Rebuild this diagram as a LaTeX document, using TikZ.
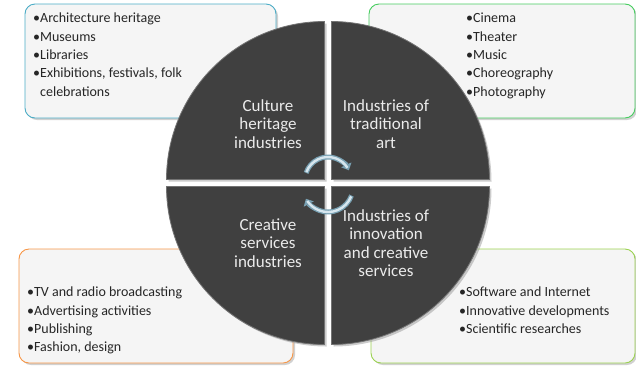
\documentclass[tikz,border=0pt]{standalone}
\usepackage{fontspec}
\setmainfont{Carlito}
\usetikzlibrary{shadows,arrows.meta}
\definecolor{quad}{RGB}{64,64,64}
\definecolor{boxfill}{RGB}{245,245,245}
\definecolor{cblue}{RGB}{75,172,198}
\definecolor{cgreen}{RGB}{70,205,95}
\definecolor{corange}{RGB}{247,150,70}
\definecolor{clime}{RGB}{155,210,80}
\definecolor{arrowdark}{RGB}{120,160,178}
\definecolor{arrowlight}{RGB}{215,230,238}
\tikzset{
  infobox/.style={rounded corners=10pt, fill=boxfill, line width=0.9pt,
    drop shadow={shadow xshift=2pt, shadow yshift=-2pt, fill=black!30, opacity=0.6}},
  quadrant/.style={fill=quad, draw=black!55, line width=0.8pt,
    drop shadow={shadow xshift=2pt, shadow yshift=-2pt, fill=black!40, opacity=0.5}},
  bullets/.style={anchor=north west, inner sep=0pt, align=left, text=black!85,
    font=\fontsize{14}{18.3}\selectfont},
  quadtext/.style={align=center, inner sep=0pt, text=white!92!black,
    font=\fontsize{17}{18.5}\selectfont},
  cyc/.style={line width=5pt, draw=arrowdark},
  cyclight/.style={line width=2.4pt, draw=arrowlight}
}
\begin{document}
\begin{tikzpicture}[x=1pt,y=-1pt]
\useasboundingbox (0,0) rectangle (636,365);
% boxes
\path[infobox, draw=cblue] (25,4) rectangle (276,118);
\path[infobox, draw=cgreen] (369,4) rectangle (635,118);
\path[infobox, draw=corange] (19,249) rectangle (293,363);
\path[infobox, draw=clime] (371,249) rectangle (635,363);
% box texts
\node[bullets] (tl) at (33,13) {•Architecture heritage\\•Museums\\•Libraries\\•Exhibitions, festivals, folk\\\hphantom{•}celebrations};
\node[bullets] (tr) at (466,13) {•Cinema\\•Theater\\•Music\\•Choreography\\•Photography};
\node[bullets] (bl) at (27,287) {•TV and radio broadcasting\\•Advertising activities\\•Publishing\\•Fashion, design};
\node[bullets] (br) at (459,287) {•Software and Internet\\•Innovative developments\\•Scientific researches};
% quadrants
\path[quadrant] (324.5,179.5) -- ++(-158,0) arc[start angle=180,end angle=270,radius=158] -- cycle;
\path[quadrant] (331.5,179.5) -- ++(0,-158) arc[start angle=270,end angle=360,radius=158] -- cycle;
\path[quadrant] (331.5,186.5) -- ++(158,0) arc[start angle=0,end angle=90,radius=158] -- cycle;
\path[quadrant] (324.5,186.5) -- ++(0,158) arc[start angle=90,end angle=180,radius=158] -- cycle;
% quadrant texts
\node[quadtext] (q1) at (268,124) {Culture\\heritage\\industries};
\node[quadtext] (q2) at (386,124) {Industries of\\traditional\\art};
\node[quadtext] (q3) at (268,243) {Creative\\services\\industries};
\node[quadtext] (q4) at (386,243) {Industries of\\innovation\\and creative\\services};
% cycle arrows
\coordinate (cu) at (328,180);
\coordinate (cl) at (328,187);
\draw[cyc, -{Triangle[length=6pt,width=11pt]}] ([shift={(198:23)}]cu) arc[start angle=198,end angle=335,radius=23];
\draw[cyclight] ([shift={(200:23)}]cu) arc[start angle=200,end angle=328,radius=23];
\draw[cyc, -{Triangle[length=6pt,width=11pt]}] ([shift={(20:25)}]cl) arc[start angle=20,end angle=152,radius=25];
\draw[cyclight] ([shift={(22:25)}]cl) arc[start angle=22,end angle=146,radius=25];
\end{tikzpicture}
\end{document}
